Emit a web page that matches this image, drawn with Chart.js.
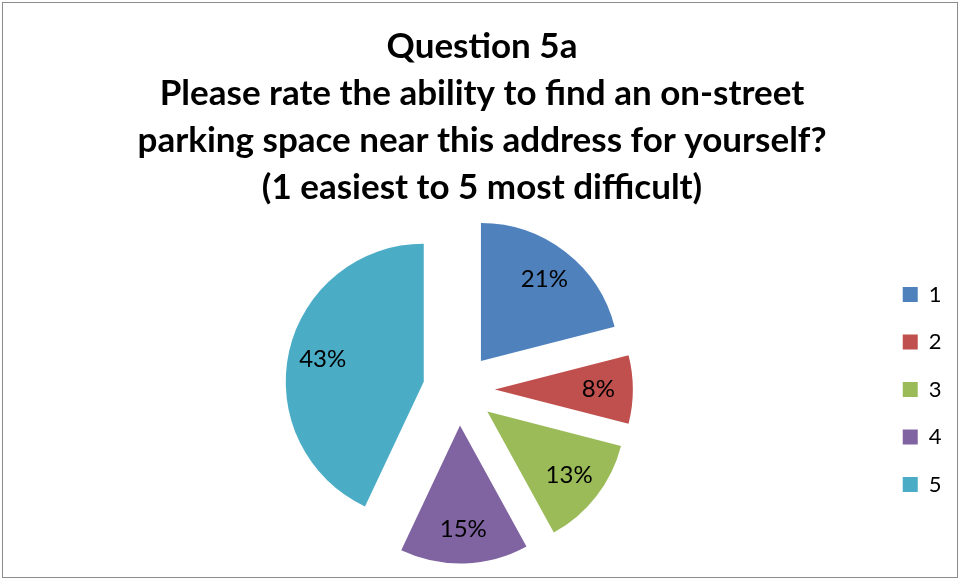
<!DOCTYPE html>
<html>
<head>
<meta charset="utf-8">
<script src="https://cdn.jsdelivr.net/npm/chart.js@4.4.1/dist/chart.umd.min.js"></script>
<style>
  html, body { margin: 0; padding: 0; background: #fff; }
  #wrap { position: relative; width: 960px; height: 579px; }
  #frame {
    position: absolute; left: 2px; top: 2px; width: 954px; height: 574px;
    border: 1px solid #8c8c8c; pointer-events: none;
  }
</style>
</head>
<body>
<div id="wrap">
  <canvas id="chartPie" width="960" height="579"></canvas>
  <div id="frame"></div>
</div>
<script>
/* ---- data ---- */
const titleLines = [
  'Question 5a',
  'Please rate the ability to find an on-street',
  'parking space near this address for yourself?',
  '(1 easiest to 5 most difficult)'
];
const categories = ['1', '2', '3', '4', '5'];
const shares = [21, 8, 13, 15, 43];
const sliceColors = ['#4F81BD', '#C0504D', '#9BBB59', '#8064A2', '#4BACC6'];

const explodeGap = 36;   // px each slice is pulled out from the centre

/* the built-in arc offset also grows the radius of some slices,
   so shift slices ourselves and keep one common radius */
class ExplodedArc extends Chart.ArcElement {
  draw(ctx) {
    const mid = (this.startAngle + this.endAngle) / 2;
    ctx.save();
    ctx.translate(Math.cos(mid) * explodeGap, Math.sin(mid) * explodeGap);
    super.draw(ctx);
    ctx.restore();
  }
}
ExplodedArc.id = 'explodedArc';

class ExplodedPie extends Chart.PieController {}
ExplodedPie.id = 'explodedPie';
ExplodedPie.defaults = { dataElementType: 'explodedArc' };

Chart.register(ExplodedArc, ExplodedPie);

/* empty box on the left so the pie sits left of the title centre */
const leftSpacer = {
  id: 'leftSpacer',
  beforeInit(chart) {
    Chart.layouts.addBox(chart, {
      position: 'left',
      weight: 0,
      fullSize: false,
      options: {},
      isHorizontal: () => false,
      update(maxWidth, maxHeight) {
        this.width = 28;
        this.height = maxHeight;
      },
      draw() {}
    });
  }
};

/* percent labels inside each slice */
const pctLabels = {
  id: 'pctLabels',
  afterDatasetsDraw(chart) {
    const { ctx } = chart;
    const meta = chart.getDatasetMeta(0);
    ctx.save();
    ctx.font = '24px Lato';
    ctx.fillStyle = '#000';
    ctx.textAlign = 'center';
    ctx.textBaseline = 'middle';
    meta.data.forEach((arc, i) => {
      const p = arc.getProps(['x', 'y', 'startAngle', 'endAngle', 'outerRadius'], true);
      const mid = (p.startAngle + p.endAngle) / 2;
      const r = explodeGap + p.outerRadius * 0.75;
      ctx.fillText(shares[i] + '%', p.x + Math.cos(mid) * r, p.y + Math.sin(mid) * r);
    });
    ctx.restore();
  }
};

const ctx = document.getElementById('chartPie').getContext('2d');
new Chart(ctx, {
  type: 'explodedPie',
  data: {
    labels: categories,
    datasets: [{
      data: shares,
      backgroundColor: sliceColors,
      borderWidth: 0
    }]
  },
  options: {
    responsive: false,
    animation: false,
    radius: 138,
    layout: { padding: { left: 12.5, right: 8.5, top: 0, bottom: 17 } },
    plugins: {
      title: {
        display: true,
        text: titleLines,
        color: '#000',
        font: { family: 'Lato', size: 35, weight: 'bold', lineHeight: 1.343 },
        padding: { top: 23, bottom: 6 }
      },
      legend: {
        position: 'right',
        fullSize: false,
        labels: {
          color: '#000',
          font: { family: 'Lato', size: 22 },
          boxWidth: 15,
          boxHeight: 15,
          padding: 25.5
        }
      },
      tooltip: { enabled: false }
    }
  },
  plugins: [leftSpacer, pctLabels]
});
</script>
</body>
</html>
